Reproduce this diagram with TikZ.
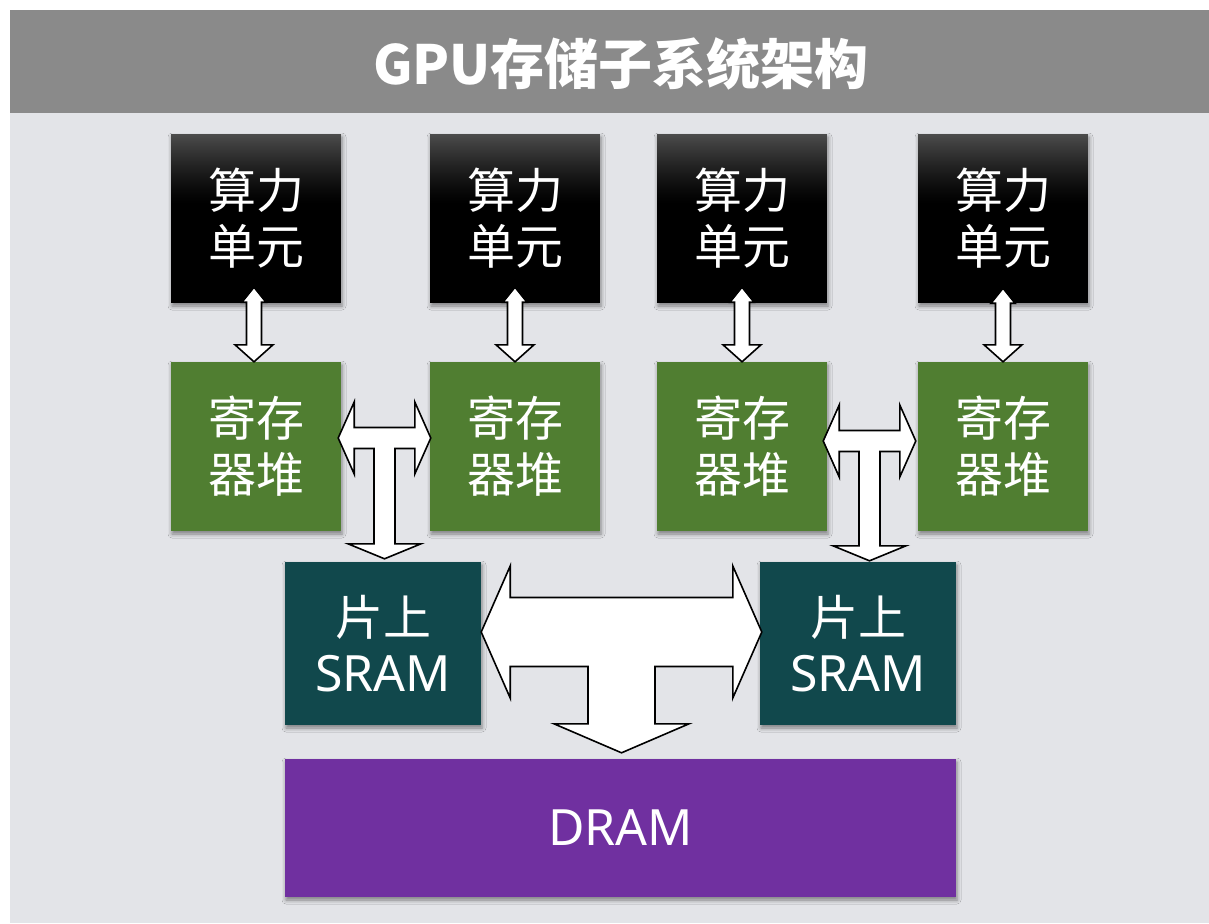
\documentclass[tikz,border=0pt]{standalone}
\usepackage{fontspec}
\setmainfont{Noto Sans}
\newfontfamily\cjk{Noto Sans CJK SC}
\usetikzlibrary{calc,shadows.blur}

\definecolor{pagebg}{RGB}{227,228,232}
\definecolor{titlebar}{RGB}{138,138,138}
\definecolor{unittop}{RGB}{76,76,76}
\definecolor{unitgreen}{RGB}{80,126,49}
\definecolor{sramteal}{RGB}{17,72,76}
\definecolor{dramviolet}{RGB}{112,48,160}

\tikzset{
  box/.style={minimum width=170pt, minimum height=169pt, inner sep=0pt,
    text=white, align=center, font=\cjk\fontsize{48}{56}\selectfont,
    blur shadow={shadow xshift=1pt, shadow yshift=-3pt,
      shadow blur radius=4pt, shadow opacity=45}},
  % black unit with a soft grey glow fading down from its top edge
  calcbox/.style={box, fill=black,
    path picture={
      \foreach \i in {0,...,69}{
        \pgfmathsetmacro\mixpct{100*(1-\i/70)^1.3}
        \fill[unittop!\mixpct!black]
          ([yshift=-\i pt]path picture bounding box.north west) rectangle
          ([yshift=-\i pt-1.2pt]path picture bounding box.north east);}
    }},
  regbox/.style={box, fill=unitgreen},
  srambox/.style={box, fill=sramteal, minimum width=196pt, minimum height=163pt},
  drambox/.style={box, fill=dramviolet, minimum width=671pt, minimum height=138pt},
  blockarrow/.style={fill=white, draw=black, line width=1.6pt, line join=miter},
}

% two-headed vertical block arrow: #1 upper tip, #2 lower tip
\newcommand\udarrow[2]{%
  \path[blockarrow] let \p1=(#1), \p2=(#2) in
    (\x1,\y1) -- (\x1+12pt,\y1-15pt) -- (\x1+7.5pt,\y1-15pt)
    -- (\x1+7.5pt,\y2+17pt) -- (\x1+19pt,\y2+17pt) -- (\x1,\y2)
    -- (\x1-19pt,\y2+17pt) -- (\x1-7.5pt,\y2+17pt)
    -- (\x1-7.5pt,\y1-15pt) -- (\x1-12pt,\y1-15pt) -- cycle;}

% T-shaped block arrow: left tip, right tip, lower tip,
% side head length, side head half-height, bar half-height,
% stem half-width, lower head length, lower head half-width
\newcommand\teearrow[9]{%
  \path[blockarrow] let \p1=(#1), \p2=(#2), \p3=(#3) in
    (\x1,\y1) -- (\x1+#4,\y1+#5) -- (\x1+#4,\y1+#6)
    -- (\x2-#4,\y1+#6) -- (\x2-#4,\y1+#5) -- (\x2,\y1)
    -- (\x2-#4,\y1-#5) -- (\x2-#4,\y1-#6)
    -- (\x1/2+\x2/2+#7,\y1-#6) -- (\x1/2+\x2/2+#7,\y3+#8)
    -- (\x1/2+\x2/2+#9,\y3+#8) -- (\x1/2+\x2/2,\y3)
    -- (\x1/2+\x2/2-#9,\y3+#8) -- (\x1/2+\x2/2-#7,\y3+#8)
    -- (\x1/2+\x2/2-#7,\y1-#6) -- (\x1+#4,\y1-#6)
    -- (\x1+#4,\y1-#5) -- cycle;}

\newcommand\latinline[1]{{\normalfont\fontsize{50}{56}\selectfont #1}}

\begin{document}
\begin{tikzpicture}[x=1pt, y=-1pt]
  \useasboundingbox (0,0) rectangle (1209,923);
  \fill[white] (0,0) rectangle (1209,923);
  \fill[pagebg] (10,113) rectangle (1209,923);
  \fill[titlebar] (10,10) rectangle (1209,113);

  \node[text=white, font=\cjk\bfseries\fontsize{54}{60}\selectfont] (title)
    at (621,64) {GPU存储子系统架构};

  % compute units
  \node[calcbox] (c1) at (256,218.5) {算力\\单元};
  \node[calcbox] (c2) at (515,218.5) {算力\\单元};
  \node[calcbox] (c3) at (742,218.5) {算力\\单元};
  \node[calcbox] (c4) at (1003,218.5) {算力\\单元};

  % register files
  \node[regbox] (r1) at (256,446.5) {寄存\\器堆};
  \node[regbox] (r2) at (515,446.5) {寄存\\器堆};
  \node[regbox] (r3) at (742,446.5) {寄存\\器堆};
  \node[regbox] (r4) at (1003,446.5) {寄存\\器堆};

  % on-chip SRAM and DRAM
  \node[srambox] (s1) at (383,643.5) {片上\\\latinline{SRAM}};
  \node[srambox] (s2) at (858,643.5) {片上\\\latinline{SRAM}};
  \node[drambox] (dram) at (620.5,828) {\latinline{DRAM}};

  % compute unit <-> register file
  \coordinate (a1) at ([shift={(-2pt,16pt)}]c1.south);
  \coordinate (a2) at ([yshift=16pt]c2.south);
  \coordinate (a3) at ([yshift=16pt]c3.south);
  \coordinate (a4) at ([yshift=15pt]c4.south);
  \coordinate (b1) at ([xshift=-2pt]r1.north);
  \udarrow{a1}{b1}
  \udarrow{a2}{r2.north}
  \udarrow{a3}{r3.north}
  \udarrow{a4}{r4.north}

  % register files <-> on-chip SRAM
  \coordinate (t1l) at ([shift={(-3pt,8.5pt)}]r1.east);
  \coordinate (t1r) at ([shift={(1pt,8.5pt)}]r2.west);
  \coordinate (t1d) at ([yshift=3pt]s1.north);
  \teearrow{t1l}{t1r}{t1d}{16pt}{36pt}{10.5pt}{10.5pt}{15pt}{36.5pt}

  \coordinate (t2l) at ([shift={(-4pt,5.5pt)}]r3.east);
  \coordinate (t2r) at ([shift={(-2pt,5.5pt)}]r4.west);
  \coordinate (t2d) at ([yshift=1pt]s2.north);
  \teearrow{t2l}{t2r}{t2d}{16pt}{36pt}{10.5pt}{10.5pt}{15pt}{36.5pt}

  % on-chip SRAM <-> DRAM
  \coordinate (t3l) at ([yshift=11.5pt]s1.east);
  \coordinate (t3r) at ([shift={(2pt,11.5pt)}]s2.west);
  \coordinate (t3d) at ([yshift=6pt]dram.north);
  \teearrow{t3l}{t3r}{t3d}{29pt}{66pt}{34.5pt}{33.5pt}{29pt}{67.5pt}
\end{tikzpicture}
\end{document}
